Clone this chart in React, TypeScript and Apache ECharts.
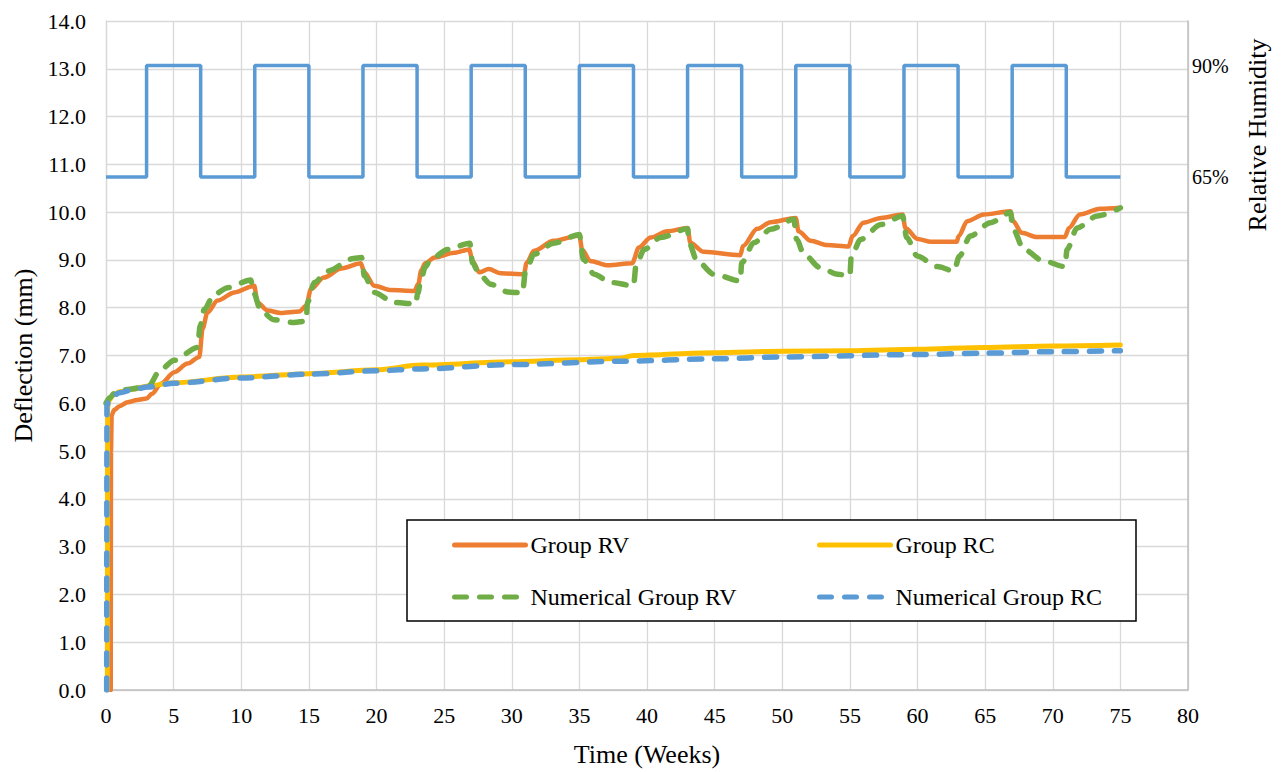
import React, { useEffect, useRef } from "react";
import * as echarts from "echarts";

// Relative humidity schedule (weeks at which a level starts, and that level in %)
const rhWeeks = [0, 3, 7, 11, 15, 19, 23, 27, 31, 35, 39, 43, 47, 51, 55, 59, 63, 67, 71, 75];
const rhLevels = [65, 90, 65, 90, 65, 90, 65, 90, 65, 90, 65, 90, 65, 90, 65, 90, 65, 90, 65, 65];

// Group RV (experimental)
const rvWeeks = [0.35, 0.37, 0.42, 0.6, 1.0, 1.6, 2.3, 3.0, 3.4, 4.06, 5.05, 6.03, 6.9, 7.14, 7.5, 8.25, 9.5, 10.96, 11.2, 11.95, 12.9, 14.3, 14.8, 15.15, 16.1, 17.4, 18.84, 19.1, 19.83, 21.06, 22.8, 23.1, 23.3, 23.6, 24.3, 25.74, 26.85, 27.1, 27.6, 28.3, 29.2, 30.9, 31.1, 31.65, 33.1, 35.0, 35.2, 35.8, 37.1, 38.9, 39.4, 40.27, 41.5, 43.0, 43.2, 44.2, 46.9, 47.1, 48.15, 49.14, 51.0, 51.2, 52.1, 53.3, 54.9, 55.2, 56.0, 57.3, 58.9, 59.1, 60.0, 61.0, 62.9, 63.05, 63.67, 64.9, 66.87, 67.07, 67.7, 68.8, 70.9, 71.2, 72.0, 73.5, 75.0];
const rvValues = [0, 5.0, 5.75, 5.86, 5.94, 6.02, 6.07, 6.1, 6.2, 6.41, 6.65, 6.83, 6.97, 7.56, 7.9, 8.15, 8.32, 8.46, 8.11, 7.94, 7.89, 7.92, 8.04, 8.39, 8.63, 8.82, 8.93, 8.74, 8.46, 8.37, 8.35, 8.5, 8.78, 8.93, 9.05, 9.15, 9.22, 8.98, 8.74, 8.81, 8.72, 8.7, 8.94, 9.19, 9.4, 9.51, 9.22, 8.98, 8.89, 8.93, 9.26, 9.47, 9.6, 9.67, 9.36, 9.17, 9.1, 9.29, 9.65, 9.79, 9.88, 9.6, 9.4, 9.31, 9.28, 9.5, 9.78, 9.88, 9.95, 9.67, 9.44, 9.38, 9.38, 9.5, 9.81, 9.95, 10.02, 9.81, 9.57, 9.48, 9.48, 9.67, 9.95, 10.07, 10.09];

// Group RC (experimental)
const rcWeeks = [0.1, 0.12, 0.2, 0.5, 1.0, 2.0, 3.1, 5.0, 10.0, 15.0, 20.0, 23.3, 30.0, 35.0, 38.0, 39.0, 45.0, 50.0, 55.0, 60.0, 65.0, 70.0, 75.0];
const rcValues = [0, 5.9, 6.05, 6.17, 6.24, 6.3, 6.36, 6.43, 6.55, 6.62, 6.7, 6.8, 6.87, 6.91, 6.94, 7.0, 7.06, 7.09, 7.1, 7.13, 7.17, 7.2, 7.22];

// Numerical Group RV
const numRvWeeks = [0, 0.3, 0.6, 1.6, 3.1, 4.06, 5.05, 6.77, 6.97, 7.27, 8.0, 9.0, 10.7, 10.9, 11.45, 12.4, 13.9, 14.8, 14.9, 15.4, 16.4, 18.3, 18.9, 19.1, 19.83, 21.3, 22.9, 23.05, 23.3, 23.6, 24.0, 25.25, 26.9, 27.1, 27.6, 28.45, 29.7, 30.8, 31.0, 31.65, 33.1, 35.0, 35.3, 36.1, 37.3, 39.0, 39.2, 39.8, 41.0, 43.0, 43.1, 43.7, 44.95, 46.9, 47.0, 47.9, 49.14, 50.86, 51.06, 51.6, 52.8, 54.1, 55.0, 55.1, 55.8, 57.3, 58.9, 59.2, 59.98, 61.45, 62.7, 63.1, 63.9, 65.4, 66.87, 67.07, 67.86, 69.3, 70.9, 71.06, 71.8, 73.3, 75.0];
const numRvValues = [6.0, 6.12, 6.2, 6.29, 6.35, 6.71, 6.9, 7.17, 7.63, 7.97, 8.28, 8.42, 8.58, 8.32, 7.94, 7.75, 7.69, 7.72, 8.11, 8.53, 8.77, 9.03, 9.05, 8.67, 8.32, 8.11, 8.08, 8.3, 8.6, 8.85, 9.01, 9.22, 9.35, 8.94, 8.7, 8.49, 8.33, 8.31, 8.74, 9.12, 9.35, 9.53, 9.01, 8.7, 8.53, 8.46, 8.91, 9.22, 9.47, 9.65, 9.36, 8.98, 8.7, 8.56, 8.94, 9.36, 9.64, 9.85, 9.43, 9.12, 8.84, 8.7, 8.67, 9.08, 9.43, 9.74, 9.92, 9.47, 9.08, 8.86, 8.77, 9.08, 9.5, 9.78, 9.99, 9.64, 9.22, 8.98, 8.86, 9.22, 9.67, 9.92, 10.09];

// Numerical Group RC
const numRcWeeks = [0.05, 0.07, 0.2, 0.5, 1.0, 2.0, 3.1, 5.0, 10.0, 15.0, 20.0, 23.3, 30.0, 38.0, 45.0, 50.0, 60.0, 65.0, 70.0, 75.0];
const numRcValues = [0, 5.95, 6.05, 6.15, 6.22, 6.29, 6.34, 6.42, 6.53, 6.61, 6.68, 6.72, 6.81, 6.88, 6.93, 6.97, 7.02, 7.05, 7.08, 7.1];

const xTicks = { min: 0, max: 80, interval: 5 };
const yTicks = { min: 0, max: 14, interval: 1 };
const rhAxisLabels = [65, 90];

const zip = (xs: number[], ys: number[]) => xs.map((x, i) => [x, ys[i]]);

const FONT = "'Liberation Serif', 'Times New Roman', serif";

export default function App() {
  const ref = useRef<HTMLDivElement>(null);
  useEffect(() => {
    const chart = echarts.init(ref.current!, null, { renderer: "svg" });
    const grid = "#d9d9d9";
    const legendText = { fontFamily: FONT, fontSize: 24, color: "#000", lineHeight: 26 };
    chart.setOption({
      animation: false,
      backgroundColor: "#ffffff",
      textStyle: { fontFamily: FONT, color: "#000" },
      grid: { left: 106, right: 96, top: 21, bottom: 79, containLabel: false },
      xAxis: {
        type: "value",
        ...xTicks,
        name: "Time (Weeks)",
        nameLocation: "middle",
        nameGap: 51,
        nameTextStyle: { fontFamily: FONT, fontSize: 26, color: "#000" },
        axisLine: { show: true, lineStyle: { color: "#bfbfbf", width: 1.5 } },
        axisTick: { show: false },
        axisLabel: { fontFamily: FONT, fontSize: 22, color: "#000", margin: 14 },
        splitLine: { show: true, lineStyle: { color: grid, width: 1.3 } },
      },
      yAxis: [
        {
          type: "value",
          ...yTicks,
          position: "left",
          name: "Deflection (mm)",
          nameLocation: "middle",
          nameGap: 70,
          nameTextStyle: { fontFamily: FONT, fontSize: 26, color: "#000" },
          axisLine: { show: true, lineStyle: { color: grid, width: 1.3 } },
          axisTick: { show: false },
          axisLabel: {
            fontFamily: FONT,
            fontSize: 22,
            color: "#000",
            margin: 20,
            formatter: (v: number) => v.toFixed(1),
          },
          splitLine: { show: true, lineStyle: { color: grid, width: 1.3 } },
        },
        {
          type: "value",
          position: "right",
          min: -50,
          max: 100,
          axisLine: { show: true, lineStyle: { color: "#bfbfbf", width: 1.5 } },
          axisTick: { show: false },
          splitLine: { show: false },
          axisLabel: {
            customValues: rhAxisLabels,
            fontFamily: FONT,
            fontSize: 20,
            color: "#000",
            margin: 4,
            formatter: (v: number) => v + "%",
          },
        },
      ],
      legend: [
        {
          data: ["Group RV", "Numerical Group RV"],
          orient: "vertical",
          left: 452,
          top: 532,
          padding: 0,
          itemWidth: 71,
          itemHeight: 14,
          itemGap: 26,
          z: 10,
          itemStyle: { opacity: 0 },
          lineStyle: { width: 5 },
          textStyle: legendText,
        },
        {
          data: ["Group RC", "Numerical Group RC"],
          orient: "vertical",
          left: 817,
          top: 532,
          padding: 0,
          itemWidth: 71,
          itemHeight: 14,
          itemGap: 26,
          z: 10,
          itemStyle: { opacity: 0 },
          lineStyle: { width: 5 },
          textStyle: legendText,
        },
      ],
      graphic: [
        {
          type: "rect",
          z: 5,
          shape: { x: 407, y: 520, width: 729, height: 101 },
          style: { fill: "#ffffff", stroke: "#000000", lineWidth: 1.5 },
        },
        {
          type: "text",
          x: 1257,
          y: 135,
          rotation: Math.PI / 2,
          style: {
            text: "Relative Humidity",
            fontFamily: FONT,
            fontSize: 26,
            fill: "#000",
            align: "center",
            verticalAlign: "middle",
          },
        },
      ],
      series: [
        {
          name: "Relative Humidity",
          type: "line",
          yAxisIndex: 1,
          step: "end",
          showSymbol: false,
          symbol: "none",
          data: zip(rhWeeks, rhLevels),
          lineStyle: { color: "#5b9bd5", width: 3.5 },
          itemStyle: { color: "#5b9bd5" },
        },
        {
          name: "Group RV",
          type: "line",
          symbol: "none",
          smooth: 0.3,
          smoothMonotone: "x",
          data: zip(rvWeeks, rvValues),
          lineStyle: { color: "#ed7d31", width: 4.5, cap: "round", join: "round" },
          itemStyle: { color: "#ed7d31" },
        },
        {
          name: "Group RC",
          type: "line",
          symbol: "none",
          smooth: 0.3,
          smoothMonotone: "x",
          data: zip(rcWeeks, rcValues),
          lineStyle: { color: "#ffc000", width: 5, cap: "round", join: "round" },
          itemStyle: { color: "#ffc000" },
        },
        {
          name: "Numerical Group RV",
          type: "line",
          symbol: "none",
          smooth: 0.3,
          smoothMonotone: "x",
          data: zip(numRvWeeks, numRvValues),
          lineStyle: { color: "#70ad47", width: 5.5, type: [12, 13], cap: "round", join: "round" },
          itemStyle: { color: "#70ad47" },
        },
        {
          name: "Numerical Group RC",
          type: "line",
          symbol: "none",
          smooth: 0.3,
          smoothMonotone: "x",
          data: zip(numRcWeeks, numRcValues),
          lineStyle: { color: "#5b9bd5", width: 5.5, type: [12, 13], cap: "round", join: "round" },
          itemStyle: { color: "#5b9bd5" },
        },
      ],
    });
    return () => chart.dispose();
  }, []);
  return (
    <div
      ref={ref}
      style={{ position: "fixed", left: 0, top: 0, width: 1284, height: 772, background: "#fff" }}
    />
  );
}
